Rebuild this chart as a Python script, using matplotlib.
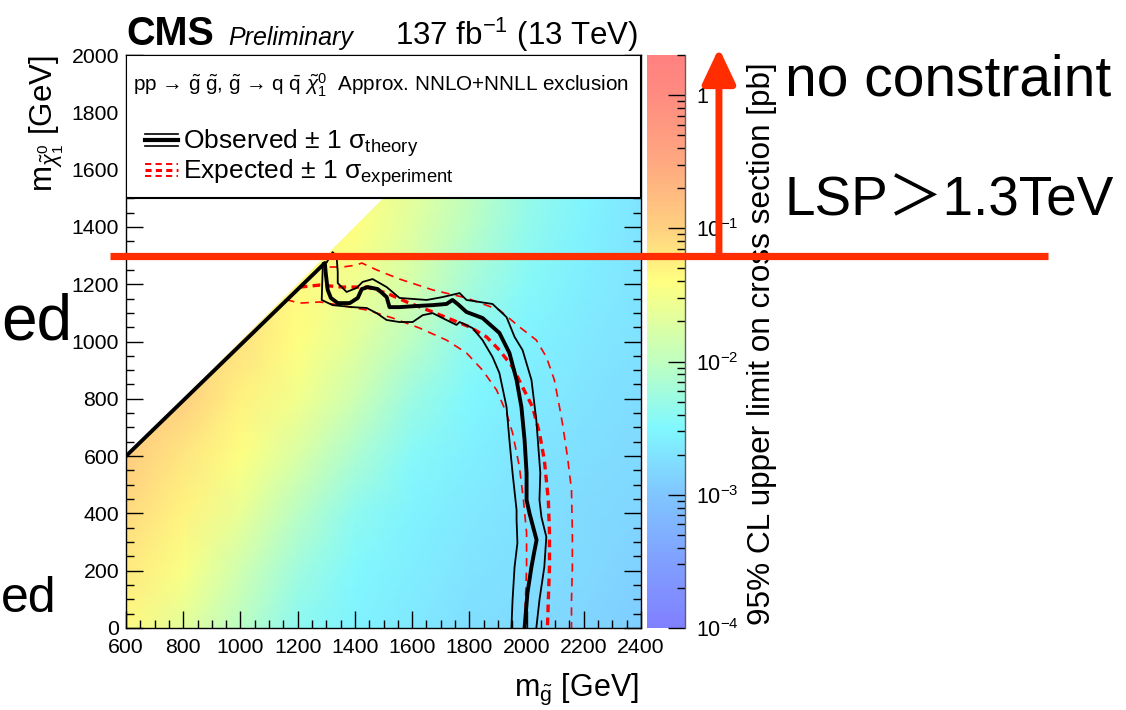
import numpy as np
import matplotlib
matplotlib.use("Agg")
import matplotlib.pyplot as plt
from matplotlib.colors import LinearSegmentedColormap, LogNorm
from matplotlib.patches import Rectangle, Polygon, FancyArrowPatch
from matplotlib.lines import Line2D
from matplotlib.legend_handler import HandlerBase
from matplotlib.ticker import MultipleLocator, LogLocator, FuncFormatter, NullFormatter
from matplotlib.transforms import blended_transform_factory

plt.rcParams['font.family'] = ['Liberation Sans', 'DejaVu Sans']
plt.rcParams['mathtext.fontset'] = 'custom'
plt.rcParams['mathtext.rm'] = 'Liberation Sans'
plt.rcParams['mathtext.it'] = 'Liberation Sans:italic'
plt.rcParams['mathtext.bf'] = 'Liberation Sans:bold'

# ---- data ----
m_gluino = [600, 800, 1000, 1200, 1400, 1600, 1800, 2000, 2200, 2400]
m_lsp = [0, 200, 400, 600, 800, 1000, 1200, 1400, 1600]
# log10 of the 95% CL upper limit [pb], rows = m_lsp, cols = m_gluino
log_limit = [
    [-1.35, -1.65, -2.05, -2.40, -2.55, -2.65, -2.75, -2.80, -2.85, -2.92],
    [-1.22, -1.45, -1.85, -2.25, -2.48, -2.60, -2.70, -2.75, -2.80, -2.88],
    [-1.08, -1.30, -1.60, -2.05, -2.38, -2.55, -2.65, -2.72, -2.78, -2.84],
    [-0.95, -1.18, -1.42, -1.75, -2.15, -2.45, -2.58, -2.68, -2.74, -2.80],
    [-0.90, -1.00, -1.28, -1.52, -1.88, -2.28, -2.50, -2.62, -2.70, -2.76],
    [-0.90, -0.95, -1.15, -1.40, -1.68, -2.05, -2.40, -2.55, -2.65, -2.72],
    [-0.90, -0.95, -1.10, -1.35, -1.55, -1.80, -2.20, -2.45, -2.60, -2.70],
    [-0.90, -0.95, -1.10, -1.30, -1.40, -1.70, -2.05, -2.35, -2.55, -2.70],
    [-0.90, -0.95, -1.10, -1.25, -1.35, -1.60, -1.95, -2.30, -2.50, -2.68],
]

# observed exclusion (starts on the diagonal)
obs_x = [600, 1295, 1298, 1305, 1316, 1340, 1382, 1410, 1424, 1445, 1480, 1511, 1521, 1556, 1616, 1672,
         1720, 1741, 1759, 1790, 1846, 1905, 1940, 1965, 1982, 1993, 2000, 2000, 2010, 2035, 2028, 2017, 2003, 1993]
obs_y = [600, 1274, 1239, 1180, 1152, 1134, 1134, 1152, 1183, 1190, 1183, 1155, 1120, 1120, 1124, 1127,
         1131, 1145, 1131, 1103, 1082, 1030, 960, 866, 771, 656, 541, 447, 401, 307, 272, 213, 122, 0]
obs_up_x = [1302, 1322, 1336, 1340, 1340, 1371, 1406, 1427, 1462, 1511, 1556, 1651, 1706, 1766, 1790, 1881,
            1930, 1958, 1986, 2017, 2034, 2048, 2045, 2052, 2069, 2062, 2045, 2034]
obs_up_y = [1277, 1312, 1298, 1243, 1204, 1173, 1187, 1208, 1218, 1190, 1152, 1145, 1155, 1169, 1145, 1131,
            1085, 1016, 970, 866, 726, 541, 447, 387, 318, 213, 98, 0]
obs_dn_x = [1288, 1284, 1322, 1392, 1441, 1476, 1511, 1556, 1602, 1637, 1672, 1720, 1755, 1766, 1811, 1846,
            1881, 1905, 1930, 1940, 1951, 1965, 1965, 1968, 1958, 1951, 1947]
obs_dn_y = [1274, 1145, 1127, 1120, 1117, 1099, 1075, 1068, 1068, 1092, 1099, 1075, 1058, 1068, 1047, 1005,
            946, 890, 771, 656, 541, 412, 377, 297, 213, 98, 0]

# expected exclusion
exp_x = [1207, 1277, 1357, 1441, 1511, 1581, 1672, 1741, 1801, 1860, 1905, 1951, 1986, 2021, 2045, 2062,
         2076, 2080, 2080, 2076, 2073]
exp_y = [1190, 1197, 1190, 1190, 1169, 1138, 1103, 1075, 1051, 1016, 970, 911, 841, 771, 681, 586,
         447, 332, 213, 98, 0]
exp_dn_x = [1160, 1207, 1277, 1347, 1441, 1532, 1626, 1720, 1790, 1846, 1895, 1930, 1951, 1975, 1989, 2000,
            2000, 1996, 1993]
exp_dn_y = [1146, 1134, 1138, 1127, 1110, 1082, 1047, 1005, 960, 900, 831, 750, 681, 562, 447, 332,
            213, 98, 0]
exp_up_x = [1312, 1357, 1406, 1424, 1476, 1556, 1672, 1790, 1905, 1975, 2034, 2069, 2097, 2115, 2125, 2143,
            2157, 2160, 2160, 2157, 2157]
exp_up_y = [1260, 1260, 1267, 1274, 1250, 1218, 1180, 1152, 1110, 1051, 1005, 946, 866, 771, 716, 597,
            482, 332, 213, 98, 0]

lsp_bound = 1300  # GeV, annotated limit

# ROOT-like washed out rainbow palette
palette = [(0.000, '#8080ff'), (0.116, '#80a0ff'), (0.233, '#80c6ff'), (0.349, '#80f8ff'),
           (0.465, '#c0ffc0'), (0.605, '#ffff80'), (0.698, '#ffd080'), (0.814, '#ffa880'),
           (0.930, '#ff8c80'), (1.000, '#ff8080')]
cmap = LinearSegmentedColormap.from_list('rootish', palette)
norm = LogNorm(vmin=1e-4, vmax=2)

fig = plt.figure(figsize=(11.26, 7.10), dpi=100)
ax = fig.add_axes([0.1119, 0.1155, 0.4574, 0.807])
cax = fig.add_axes([0.5746, 0.1155, 0.0337, 0.807])

X, Y = np.meshgrid(m_gluino, m_lsp)
Z = 10 ** np.array(log_limit)
mesh = ax.pcolormesh(X, Y, Z, cmap=cmap, norm=norm, shading='gouraud', zorder=1)
lo, hi = m_gluino[0], m_gluino[-1]
clip = Polygon([(lo, 0), (lo, lo), (hi, hi), (hi, 0)], transform=ax.transData)
mesh.set_clip_path(clip)

red = '#ff0000'
ax.plot(obs_x, obs_y, color='k', lw=2.8, zorder=2.2, solid_joinstyle='round')
ax.plot(obs_up_x, obs_up_y, color='k', lw=1.3, zorder=2.1)
ax.plot(obs_dn_x, obs_dn_y, color='k', lw=1.3, zorder=2.1)
ax.plot(exp_x, exp_y, color=red, lw=2.4, ls=(0, (2.3, 1.6)), zorder=2.0)
ax.plot(exp_up_x, exp_up_y, color=red, lw=1.2, ls=(0, (5.0, 3.8)), zorder=2.0)
ax.plot(exp_dn_x, exp_dn_y, color=red, lw=1.2, ls=(0, (5.0, 3.8)), zorder=2.0)

ax.set_xlim(lo, hi)
ax.set_ylim(0, 2000)
ax.xaxis.set_major_locator(MultipleLocator(200))
ax.xaxis.set_minor_locator(MultipleLocator(50))
ax.yaxis.set_major_locator(MultipleLocator(200))
ax.yaxis.set_minor_locator(MultipleLocator(50))
ax.tick_params(which='both', direction='in', right=True, top=False, labelsize=15.3, width=1)
ax.tick_params(which='major', length=12)
ax.tick_params(which='minor', length=6)
ax.tick_params(axis='x', pad=7.5)
ax.tick_params(axis='y', pad=5)
for s in ax.spines.values():
    s.set_linewidth(1.0)

# axis titles, ROOT style (aligned to the end of the axis)
ax.set_xlabel(r'$\mathrm{m}_{\tilde{\mathrm{g}}}$ [GeV]', fontsize=22)
ax.xaxis.label.set(ha='right', va='top')
ax.xaxis.set_label_coords(0.995, -0.076)
ax.set_ylabel(r'$\mathrm{m}_{\tilde{\chi}^{0}_{1}}$ [GeV]', fontsize=22.5)
ax.yaxis.label.set(rotation=90, rotation_mode='default', ha='center', va='top')
ax.yaxis.set_label_coords(-0.153, 1.0)

# legend box on top of the plot
ax.add_patch(Rectangle((0, 0.75), 1, 0.25, transform=ax.transAxes, facecolor='white',
                       edgecolor='black', lw=1.5, zorder=3))
ax.text(0.0136, 0.9475,
        'pp \u2192 ' + r'$\tilde{\mathrm{g}}$ $\tilde{\mathrm{g}}$, $\tilde{\mathrm{g}}$' + ' \u2192 q '
        + r'$\bar{\mathrm{q}}$ $\tilde{\chi}^{0}_{1}$' + '  Approx. NNLO+NNLL exclusion',
        transform=ax.transAxes, fontsize=14.9, va='center', ha='left', zorder=4)


class StackedLines(HandlerBase):
    """legend key: central line with two thin +-1 sigma lines"""

    def __init__(self, color, widths, style):
        super().__init__()
        self.color = color
        self.widths = widths
        self.style = style

    def create_artists(self, legend, orig_handle, xdescent, ydescent, width, height, fontsize, trans):
        yc = height / 2 - ydescent
        arts = []
        for k, lw in enumerate(self.widths):
            dy = (1 - k) * height * 0.33
            ln = Line2D([-xdescent, width - xdescent], [yc + dy, yc + dy], color=self.color,
                        lw=lw, linestyle=self.style[k])
            ln.set_transform(trans)
            arts.append(ln)
        return arts


h_obs = Line2D([], [], color='k')
h_exp = Line2D([], [], color=red)
leg = ax.legend([h_obs, h_exp],
                [r'Observed $\pm$ 1 $\mathrm{\sigma}_{\mathrm{theory}}$',
                 r'Expected $\pm$ 1 $\mathrm{\sigma}_{\mathrm{experiment}}$'],
                handler_map={h_obs: StackedLines('k', [1.2, 3.0, 1.2], ['-', '-', '-']),
                             h_exp: StackedLines(red, [1.4, 2.2, 1.4],
                                                 [(0, (3.2, 2.2)), (0, (2.0, 1.4)), (0, (3.2, 2.2))])},
                loc='upper left', bbox_to_anchor=(0.037, 0.873), frameon=False, fontsize=19,
                handlelength=1.25, handletextpad=0.2, labelspacing=-0.08, borderpad=0,
                borderaxespad=0)
leg.set_zorder(5)

# colour scale
cb = fig.colorbar(mesh, cax=cax)
cb.outline.set_visible(False)
cax.yaxis.set_major_locator(LogLocator(base=10))
cax.yaxis.set_minor_locator(LogLocator(base=10, subs=np.arange(2, 10)))
cax.yaxis.set_minor_formatter(NullFormatter())
cax.yaxis.set_major_formatter(FuncFormatter(
    lambda v, p: '1' if abs(v - 1) < 1e-9 else r'$10^{%d}$' % round(np.log10(v))))
cax.tick_params(which='both', direction='in', left=False, right=True, labelright=True,
                labelleft=False, labelsize=15.5, pad=8, width=1)
cax.tick_params(which='major', length=12)
cax.tick_params(which='minor', length=6)
cax.plot([1, 1], [0, 1], transform=cax.transAxes, color='#606060', lw=1, clip_on=False)
cb.set_label('95% CL upper limit on cross section [pb]', fontsize=22.7)
cax.yaxis.label.set(rotation=90, rotation_mode='default', ha='center', va='top')
cax.yaxis.set_label_coords(3.03, 0.988)

# header
fig.text(126 / 1126, 1 - 45 / 710, 'CMS', fontsize=28.5, fontweight='bold', va='baseline')
fig.text(228 / 1126, 1 - 45 / 710, 'Preliminary', fontsize=18, style='italic', va='baseline')
fig.text(638 / 1126, 1 - 45 / 710, r'137 fb$^{-1}$ (13 TeV)', fontsize=22.5, ha='right', va='baseline')

# overlay annotations
overlay = '#ff2d00'
blend = blended_transform_factory(fig.transFigure, ax.transData)
fig.add_artist(Line2D([0.0977, 0.9307], [lsp_bound, lsp_bound], transform=blend,
                      color=overlay, lw=5.2, solid_capstyle='butt', zorder=10))
y_start = fig.transFigure.inverted().transform(ax.transData.transform((lo, lsp_bound)))[1]
arrow = FancyArrowPatch((0.6385, y_start), (0.6385, 1 - 48 / 710), transform=fig.transFigure,
                        arrowstyle='-|>,head_length=0.85,head_width=0.4', mutation_scale=25,
                        color=overlay, lw=5, shrinkA=0, shrinkB=0, zorder=10)
fig.add_artist(arrow)

fig.text(785 / 1126, 1 - 95 / 710, 'no constraint', fontsize=41, va='baseline', zorder=11)
fig.text(785 / 1126, 1 - 215 / 710, 'LSP\uff1e1.3TeV', fontsize=39.5, va='baseline', zorder=11,
         family=['Liberation Sans', 'Noto Sans CJK JP'])
fig.text(1 / 1126, 1 - 340 / 710, 'ed', fontsize=46, ha='left', va='baseline')
fig.text(1 / 1126, 1 - 612 / 710, 'ed', fontsize=36, ha='left', va='baseline')

fig.savefig('out.png', dpi=100)
